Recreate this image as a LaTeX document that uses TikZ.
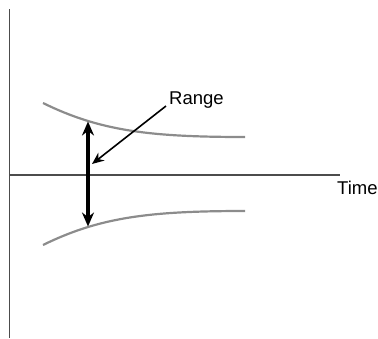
\documentclass[tikz,border=0pt]{standalone}
\usepackage{fontspec}
\setmainfont{Liberation Sans}
\usetikzlibrary{arrows.meta}
\begin{document}
\begin{tikzpicture}[x=1pt,y=-1pt,
  axis/.style={draw=black!70,line width=1.5pt},
  bound/.style={draw=black!45,line width=2.2pt},
  lbl/.style={font=\fontsize{18.5}{20}\selectfont,inner sep=0pt}]
\useasboundingbox (0,0) rectangle (378,338);
\coordinate (ytop) at (9.5,9);
\coordinate (ybot) at (9.5,338);
\coordinate (xl) at (9.5,175);
\coordinate (xr) at (340,175);
\draw[axis] (ytop) -- (ybot);
\draw[axis] (xl) -- (xr);
\node[lbl,anchor=north west] (time) at (337,181) {Time};
\coordinate (u0) at (43,103);
\coordinate (u2) at (245,137);
\draw[bound] (u0) .. controls (100,131) and (150,137) .. (u2);
\coordinate (l0) at (43,245);
\coordinate (l2) at (245,211);
\draw[bound] (l0) .. controls (100,217) and (150,211) .. (l2);
\coordinate (u1) at (88,121.5);
\coordinate (l1) at (88,226.5);
\draw[line width=4pt,{Stealth[length=14pt,width=12pt]}-{Stealth[length=14pt,width=12pt]}] (u1) -- (l1);
\node[lbl,anchor=west] (range) at (169,100) {Range};
\coordinate (rs) at (166,106);
\coordinate (rt) at (92,164);
\draw[line width=1.6pt,-{Stealth[length=12pt,width=10pt]}] (rs) -- (rt);
\end{tikzpicture}
\end{document}
